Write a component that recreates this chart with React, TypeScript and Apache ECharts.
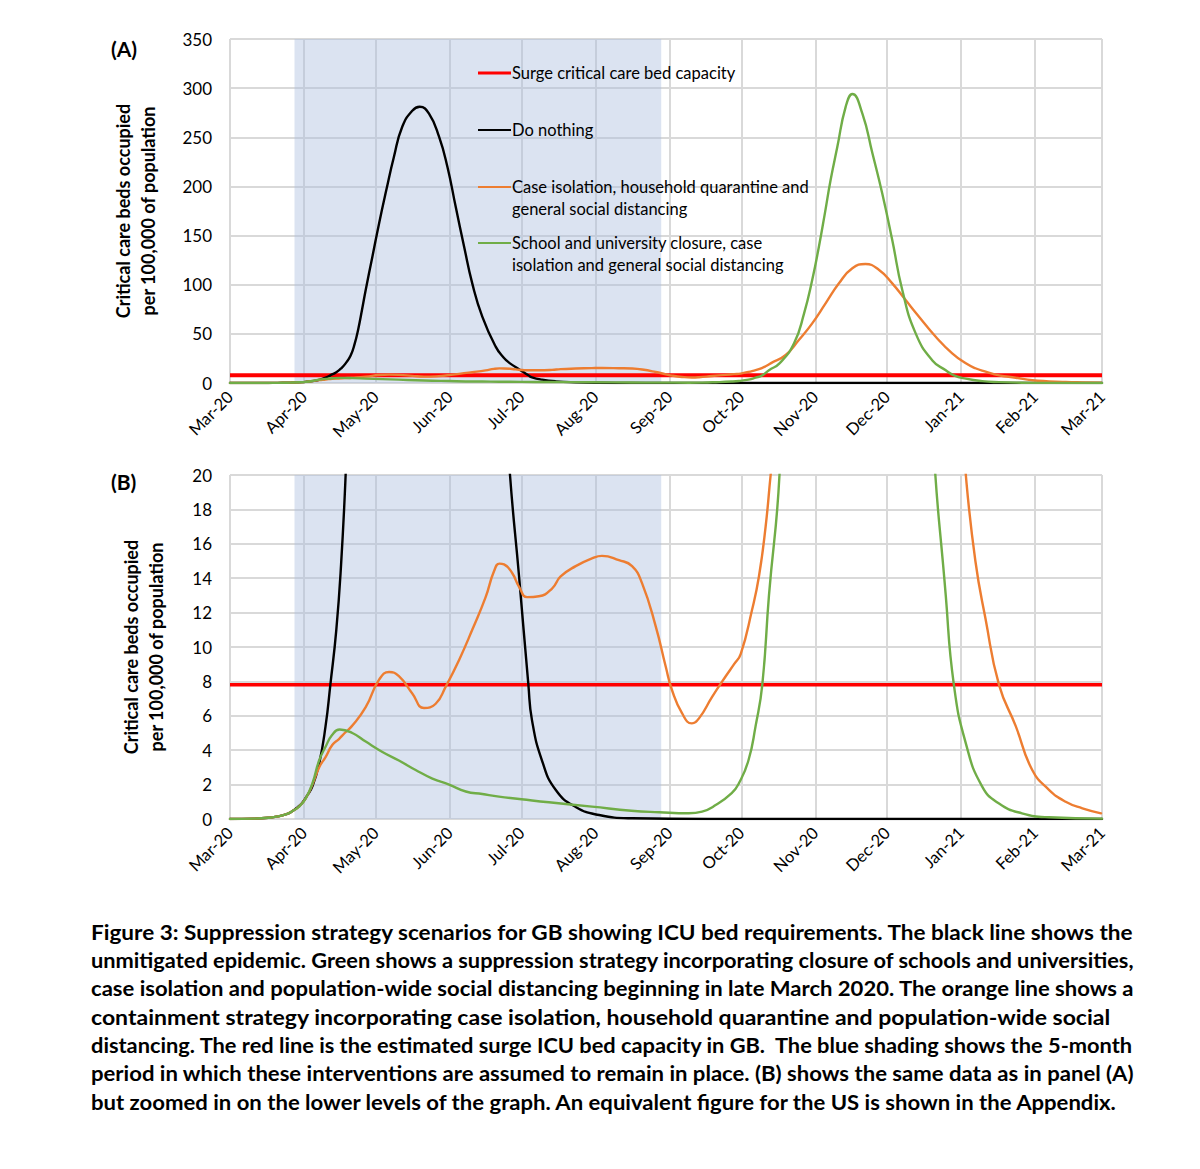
import React, { useEffect, useRef } from 'react';
import * as echarts from 'echarts';

// ---- axis definitions (days since 1 Mar 2020) ----
const monthDays = [0, 31, 61, 92, 122, 153, 184, 214, 245, 275, 306, 337, 365];
const monthLabels = ['Mar-20', 'Apr-20', 'May-20', 'Jun-20', 'Jul-20', 'Aug-20', 'Sep-20', 'Oct-20', 'Nov-20', 'Dec-20', 'Jan-21', 'Feb-21', 'Mar-21'];
const yMaxA = 350;
const yStepA = 50;
const yMaxB = 20;
const yStepB = 2;

// ---- data ----
const surgeCapacity = 7.8;
const shadeStartDay = 27;
const shadeEndDay = 180.5;

const doNothing: [number, number][] = [
  [0, 0], [10, 0.02], [16, 0.07], [20, 0.15], [24, 0.3], [26, 0.45], [28, 0.65], [30, 0.9], [32, 1.3],
  [34.5, 1.9], [37.3, 3.2], [40, 5.4], [42, 7.8], [44.5, 11], [46.5, 14.8], [48.4, 20], [50.5, 28],
  [52.2, 40], [53.7, 55], [55.3, 75], [56.8, 94.6], [59.6, 128.5], [62.4, 162.4], [65.4, 196], [68.6, 230],
  [72.1, 260.7], [76.3, 277], [79.4, 281], [83.3, 274], [87.5, 250.6], [91, 220], [94.5, 179],
  [98, 138.7], [101.4, 101.4], [105.6, 67.5], [111.2, 37], [114.5, 26], [117.2, 20], [121, 14.1],
  [124.9, 7.8], [126.4, 5.75], [130.6, 3.4], [136.3, 1.7], [144.7, 0.7], [154.5, 0.23], [168.3, 0.04],
  [200, 0], [365, 0],
];

const caseIsolation: [number, number][] = [
  [0, 0], [10, 0.02], [16, 0.07], [20, 0.15], [24, 0.3], [26, 0.45], [28.9, 0.72], [31.7, 1.2],
  [34.5, 2.0], [37.3, 3.0], [40, 3.6], [42.8, 4.3], [45.6, 4.65], [48, 5.0], [51, 5.4], [56.8, 6.5],
  [62.4, 8.1], [66.6, 8.55], [70.7, 8.3], [76.3, 7.3], [81.2, 6.45], [86.1, 6.7], [90.3, 7.7],
  [95.9, 9.25], [101.4, 11], [107, 12.9], [110.5, 14.4], [112.8, 14.85], [114.7, 14.8], [118.1, 14.3],
  [121, 13.5], [124.4, 12.9], [129.3, 12.95], [134.8, 13.4], [138.4, 14.1], [144.7, 14.7],
  [151.5, 15.15], [155.7, 15.3], [162.8, 15.05], [168.3, 14.7], [172.5, 13.7], [178.2, 11.2],
  [182.4, 8.85], [185, 7.5], [189.2, 6.15], [193.3, 5.56], [196.3, 5.85], [201.8, 7.1], [207.5, 8.3],
  [211, 9.0], [213.8, 9.6], [218.5, 12.15], [221.4, 14.1], [224.2, 17], [226.3, 20], [232.6, 28.5],
  [238.1, 43.7], [243.7, 60.7], [249.3, 81], [254.9, 101.4], [260.5, 116.7], [266, 121], [271.7, 115],
  [277.2, 101.4], [282.8, 84.4], [288.4, 67.5], [295.4, 47.1], [302.3, 30.2], [308, 20], [312, 15],
  [316.3, 11.6], [321.9, 7.8], [328.9, 5.4], [335.8, 2.85], [342.8, 1.7], [349.8, 1.0], [356.8, 0.62],
  [364.6, 0.33],
];

const schoolClosure: [number, number][] = [
  [0, 0], [10, 0.02], [16, 0.07], [20, 0.15], [24, 0.3], [26, 0.45], [28.9, 0.72], [31.7, 1.2],
  [34.5, 2.07], [37.3, 3.4], [40, 4.2], [42.8, 4.9], [45.9, 5.2], [51.2, 5.0], [56.8, 4.5], [63.8, 3.9],
  [70.7, 3.4], [77.7, 2.85], [84.7, 2.35], [91.7, 2.0], [98.7, 1.6], [105.6, 1.45], [112.6, 1.3],
  [122, 1.15], [133.5, 0.97], [151.5, 0.72], [168, 0.48], [179.6, 0.39], [192, 0.33], [197.6, 0.43],
  [203.3, 0.81], [210, 1.5], [213, 2.07], [217, 3.4], [220, 5.4], [222.8, 7.8], [225.6, 13], [230, 20],
  [236.1, 40.4], [240.3, 70.9], [243.7, 104.8], [246.5, 138.7], [249, 172.6], [251.4, 206.5],
  [254.2, 240], [257.7, 281], [260.5, 294], [264.7, 274], [268.9, 233.7], [273, 193], [277.2, 145.5],
  [281.4, 94.6], [287, 50.5], [294, 23], [299.6, 13], [303, 7.8], [308, 4.4], [314.8, 1.9],
  [321.9, 0.9], [331.5, 0.33], [342.8, 0.1], [365, 0.02],
];

const seriesNames = [
  'Surge critical care bed capacity',
  'Do nothing',
  'Case isolation, household quarantine and\ngeneral social distancing',
  'School and university closure, case\nisolation and general social distancing',
];
const seriesColors = ['#ff0000', '#000000', '#ed7d31', '#70ad47'];

const yAxisTitle = 'Critical care beds occupied\nper 100,000 of population';

const captionLines = [
  'Figure 3: Suppression strategy scenarios for GB showing ICU bed requirements. The black line shows the',
  'unmitigated epidemic. Green shows a suppression strategy incorporating closure of schools and universities,',
  'case isolation and population-wide social distancing beginning in late March 2020. The orange line shows a',
  'containment strategy incorporating case isolation, household quarantine and population-wide social',
  'distancing. The red line is the estimated surge ICU bed capacity in GB.  The blue shading shows the 5-month',
  'period in which these interventions are assumed to remain in place. (B) shows the same data as in panel (A)',
  'but zoomed in on the lower levels of the graph. An equivalent figure for the US is shown in the Appendix.',
];

const FONT = 'Lato';

function measure(text: string, font: string): number {
  const c = document.createElement('canvas').getContext('2d');
  if (!c) return text.length * 10;
  c.font = font;
  return c.measureText(text).width;
}

function buildOption() {
  const grids = [
    { left: 230, top: 39, width: 872, height: 344 },
    { left: 230, top: 475, width: 872, height: 344 },
  ];
  const gridLine = { show: true, lineStyle: { color: '#d9d9d9', width: 2 } };

  const xAxis = [0, 1].map((g) => ({
    type: 'value',
    gridIndex: g,
    min: 0,
    max: 365,
    axisLine: { show: false },
    axisTick: { show: false, customValues: monthDays },
    axisLabel: {
      customValues: monthDays,
      rotate: 45,
      fontSize: 16.5,
      fontFamily: FONT,
      color: '#000',
      margin: 11,
      formatter: (v: number) => {
        const i = monthDays.findIndex((d) => Math.abs(d - v) < 0.5);
        return i >= 0 ? monthLabels[i] : '';
      },
    },
    splitLine: gridLine,
  }));

  const yAxis = [
    { max: yMaxA, interval: yStepA, gap: 70 },
    { max: yMaxB, interval: yStepB, gap: 62 },
  ].map((a, g) => ({
    type: 'value',
    gridIndex: g,
    min: 0,
    max: a.max,
    interval: a.interval,
    axisLine: { show: false },
    axisTick: { show: false },
    axisLabel: { fontSize: 17, fontFamily: FONT, color: '#000', margin: 18 },
    splitLine: gridLine,
    name: yAxisTitle,
    nameLocation: 'middle',
    nameGap: a.gap,
    nameTextStyle: { fontSize: 18, fontWeight: 'bold', fontFamily: FONT, color: '#000', lineHeight: 25 },
  }));

  const series: any[] = [];
  [0, 1].forEach((g) => {
    series.push({
      name: seriesNames[0],
      type: 'line',
      xAxisIndex: g,
      yAxisIndex: g,
      data: [[0, surgeCapacity], [365, surgeCapacity]],
      symbol: 'none',
      lineStyle: { color: seriesColors[0], width: g === 0 ? 4 : 3.5 },
      z: 3,
      markArea: {
        silent: true,
        itemStyle: { color: 'rgba(170,188,222,0.42)' },
        data: [[{ xAxis: shadeStartDay }, { xAxis: shadeEndDay }]],
      },
    });
    [doNothing, caseIsolation, schoolClosure].forEach((d, k) => {
      series.push({
        name: seriesNames[k + 1],
        type: 'line',
        xAxisIndex: g,
        yAxisIndex: g,
        data: d,
        symbol: 'none',
        smooth: 0.5,
        clip: true,
        lineStyle: { color: seriesColors[k + 1], width: 2.4, join: 'round', cap: 'round' },
        z: 4 + k,
      });
    });
  });

  // legend drawn in panel A
  const legendRows = [73, 130, 187, 243];
  const legendEls: any[] = [];
  seriesNames.forEach((n, i) => {
    legendEls.push({
      type: 'line',
      shape: { x1: 478, y1: legendRows[i], x2: 511, y2: legendRows[i] },
      style: { stroke: seriesColors[i], lineWidth: i === 0 ? 3 : 2 },
      z: 10,
    });
    legendEls.push({
      type: 'text',
      x: 512,
      y: legendRows[i] - 11,
      z: 10,
      style: {
        text: n,
        fontSize: 16.5,
        fontFamily: FONT,
        fill: '#000',
        lineHeight: 22,
        textAlign: 'left',
        verticalAlign: 'top',
      },
    });
  });

  // caption
  const capFontSize = 20.5;
  const capFont = `bold ${capFontSize}px ${FONT}`;
  const capLeft = 91;
  const capWidth = 1044;
  const widths = captionLines.map((l) => measure(l, capFont));
  const rawScales = widths.slice(0, -1).map((w) => capWidth / w);
  const sorted = [...rawScales].sort((a, b) => a - b);
  const median = sorted[Math.floor(sorted.length / 2)];
  const captionEls = captionLines.map((l, i) => {
    let s = i < captionLines.length - 1 ? rawScales[i] : median;
    s = Math.min(Math.max(s, median * 0.97), median * 1.04);
    return {
      type: 'text',
      x: capLeft,
      y: 932 + i * 28.35,
      scaleX: s,
      style: {
        text: l,
        fontSize: capFontSize,
        fontWeight: 'bold',
        fontFamily: FONT,
        fill: '#000',
        textAlign: 'left',
        verticalAlign: 'middle',
      },
    };
  });

  const panelLabels = [
    { t: '(A)', y: 48 },
    { t: '(B)', y: 481 },
  ].map((p) => ({
    type: 'text',
    x: 111,
    y: p.y,
    style: { text: p.t, fontSize: 21, fontWeight: 'bold', fontFamily: FONT, fill: '#000', verticalAlign: 'middle' },
  }));

  return {
    animation: false,
    backgroundColor: '#ffffff',
    textStyle: { fontFamily: FONT },
    grid: grids,
    xAxis,
    yAxis,
    series,
    graphic: [...legendEls, ...captionEls, ...panelLabels],
  };
}

export default function App() {
  const ref = useRef<HTMLDivElement>(null);
  useEffect(() => {
    document.body.style.margin = '0';
    if (!ref.current) return;
    const chart = echarts.init(ref.current, undefined, { renderer: 'svg' });
    chart.setOption(buildOption() as any);
    return () => chart.dispose();
  }, []);
  return <div ref={ref} style={{ width: 1200, height: 1169 }} />;
}
